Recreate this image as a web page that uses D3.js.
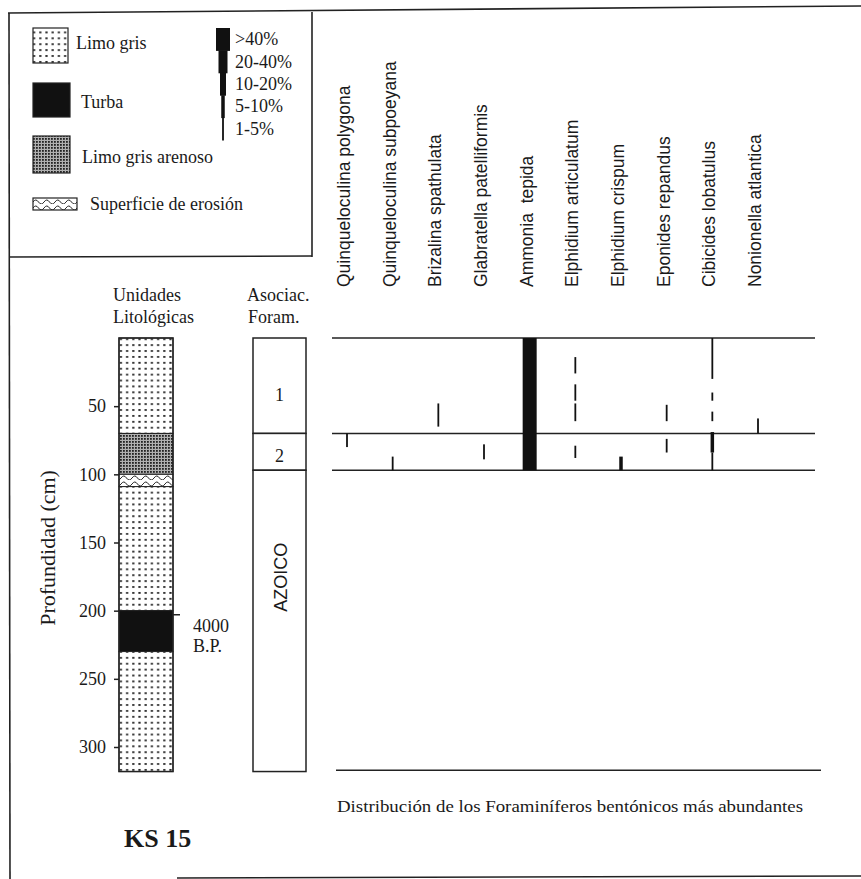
<!DOCTYPE html>
<html>
<head>
<meta charset="utf-8">
<script src="https://cdn.jsdelivr.net/npm/d3@7"></script>
<style>
  body { margin: 0; background: #fff; }
  text { font-family: "Liberation Serif", "Times New Roman", serif; fill: #1a1a1a; }
  .sans { font-family: "Liberation Sans", Arial, sans-serif; }
</style>
</head>
<body>
<svg id="svg" width="861" height="879"></svg>
<script>
// ---- datos ----
const species = [
  "Quinqueloculina polygona", "Quinqueloculina subpoeyana", "Brizalina spathulata",
  "Glabratella patelliformis", "Ammonia  tepida", "Elphidium articulatum",
  "Elphidium crispum", "Eponides repandus", "Cibicides lobatulus", "Nonionella atlantica"
];
const abundanceClasses = [">40%", "20-40%", "10-20%", "5-10%", "1-5%"];
const lithoUnits = ["Limo gris", "Turba", "Limo gris arenoso", "Superficie de erosión"];
const depthTicks = [50, 100, 150, 200, 250, 300];

// unidades litologicas (cm)
const lithoLayers = [
  { from: 0,   to: 70,  unit: "Limo gris" },
  { from: 70,  to: 100, unit: "Limo gris arenoso" },
  { from: 100, to: 109, unit: "Superficie de erosión" },
  { from: 109, to: 200, unit: "Limo gris" },
  { from: 200, to: 230, unit: "Turba" },
  { from: 230, to: 318, unit: "Limo gris" }
];

// asociaciones de foraminiferos
const associations = [
  { from: 0,  to: 70,  label: "1" },
  { from: 70, to: 97,  label: "2" },
  { from: 97, to: 318, label: "AZOICO" }
];

// datacion
const dating = { depth: 203, label: ["4000", "B.P."] };

// presencia de cada especie por tramo de profundidad
const occurrences = [
  { sp: "Quinqueloculina polygona",   from: 70, to: 80, ab: "1-5%" },
  { sp: "Quinqueloculina subpoeyana", from: 87, to: 97, ab: "1-5%" },
  { sp: "Brizalina spathulata",       from: 48, to: 65, ab: "1-5%" },
  { sp: "Glabratella patelliformis",  from: 78, to: 89, ab: "1-5%" },
  { sp: "Ammonia  tepida",            from: 0,  to: 97, ab: ">40%" },
  { sp: "Elphidium articulatum",      from: 14, to: 26, ab: "1-5%" },
  { sp: "Elphidium articulatum",      from: 34, to: 46, ab: "1-5%" },
  { sp: "Elphidium articulatum",      from: 48, to: 61, ab: "1-5%" },
  { sp: "Elphidium articulatum",      from: 79, to: 88, ab: "1-5%" },
  { sp: "Elphidium crispum",          from: 87, to: 97, ab: "5-10%" },
  { sp: "Eponides repandus",          from: 49, to: 61, ab: "1-5%" },
  { sp: "Eponides repandus",          from: 74, to: 84, ab: "1-5%" },
  { sp: "Cibicides lobatulus",        from: 0,  to: 30, ab: "1-5%" },
  { sp: "Cibicides lobatulus",        from: 40, to: 46, ab: "1-5%" },
  { sp: "Cibicides lobatulus",        from: 54, to: 61, ab: "1-5%" },
  { sp: "Cibicides lobatulus",        from: 69, to: 84, ab: "5-10%" },
  { sp: "Cibicides lobatulus",        from: 84, to: 97, ab: "1-5%" },
  { sp: "Nonionella atlantica",       from: 59, to: 70, ab: "1-5%" }
];

// ---- escalas ----
const svg = d3.select("#svg");
const y = d3.scaleLinear().domain([0, 300]).range([338, 747]);
const x = d3.scalePoint().domain(species).range([347, 758]);
const barWidth = d3.scaleOrdinal().domain(abundanceClasses).range([14, 9, 6, 3.5, 1.8]);
const unitFill = d3.scaleOrdinal().domain(lithoUnits)
  .range(["url(#limo)", "#111", "url(#arenoso)", "url(#erosion)"]);

// ---- patrones ----
const defs = svg.append("defs");
const pLimo = defs.append("pattern").attr("id", "limo")
  .attr("patternUnits", "userSpaceOnUse").attr("width", 6.2).attr("height", 5.9);
pLimo.append("rect").attr("width", 6.2).attr("height", 5.9).attr("fill", "#fff");
pLimo.append("rect").attr("x", 2).attr("y", 2).attr("width", 2.2).attr("height", 1.8).attr("fill", "#222");

const pAr = defs.append("pattern").attr("id", "arenoso")
  .attr("patternUnits", "userSpaceOnUse").attr("width", 3).attr("height", 3);
pAr.append("rect").attr("width", 3).attr("height", 3).attr("fill", "#b0b0b0");
pAr.append("rect").attr("width", 1.8).attr("height", 1.8).attr("fill", "#222");

const pEr = defs.append("pattern").attr("id", "erosion")
  .attr("patternUnits", "userSpaceOnUse").attr("width", 11).attr("height", 6);
pEr.append("rect").attr("width", 11).attr("height", 6).attr("fill", "#fff");
pEr.append("path").attr("d", "M0,4 Q2.75,0 5.5,4 T11,4")
  .attr("fill", "none").attr("stroke", "#222").attr("stroke-width", 1);

// ---- marco ----
const frame = svg.append("g").attr("stroke", "#222").attr("stroke-width", 1.6);
frame.append("line").attr("x1", 8).attr("y1", 13).attr("x2", 861).attr("y2", 6);
frame.append("line").attr("x1", 9).attr("y1", 13).attr("x2", 10).attr("y2", 879);
frame.append("line").attr("x1", 312).attr("y1", 12).attr("x2", 312).attr("y2", 257);
frame.append("line").attr("x1", 9).attr("y1", 257).attr("x2", 312).attr("y2", 256);
frame.append("line").attr("x1", 177).attr("y1", 878).attr("x2", 861).attr("y2", 876);

// ---- leyenda litologica ----
const legendItems = [
  { unit: "Limo gris",             sx: 33, sy: 28,  sw: 35, sh: 35, tx: 76, ty: 49 },
  { unit: "Turba",                 sx: 33, sy: 83,  sw: 37, sh: 34, tx: 81, ty: 108 },
  { unit: "Limo gris arenoso",     sx: 33, sy: 136, sw: 37, sh: 37, tx: 82, ty: 163 },
  { unit: "Superficie de erosión", sx: 33, sy: 198, sw: 44, sh: 12, tx: 90, ty: 210 }
];
const leg = svg.append("g");
leg.selectAll("rect.sw").data(legendItems).enter().append("rect")
  .attr("class", "sw")
  .attr("x", d => d.sx).attr("y", d => d.sy)
  .attr("width", d => d.sw).attr("height", d => d.sh)
  .attr("fill", d => unitFill(d.unit))
  .attr("stroke", "#222").attr("stroke-width", 1.2);
leg.selectAll("text.sw").data(legendItems).enter().append("text")
  .attr("class", "sw")
  .attr("x", d => d.tx).attr("y", d => d.ty)
  .attr("font-size", 18)
  .text(d => d.unit);

// ---- leyenda de abundancia ----
const legY = d3.scaleBand().domain(abundanceClasses).range([28, 140]);
leg.selectAll("rect.ab").data(abundanceClasses).enter().append("rect")
  .attr("class", "ab")
  .attr("x", d => 223 - barWidth(d) / 2)
  .attr("y", d => legY(d))
  .attr("width", d => barWidth(d))
  .attr("height", legY.bandwidth() + 0.5)
  .attr("fill", "#111");
leg.selectAll("text.ab").data(abundanceClasses).enter().append("text")
  .attr("class", "ab")
  .attr("x", 235)
  .attr("y", d => legY(d) + legY.bandwidth() / 2 + 6)
  .attr("font-size", 18)
  .text(d => d);

// ---- columna litologica ----
const colX = 119, colW = 54;
svg.append("text").attr("x", 113).attr("y", 301).attr("font-size", 18).text("Unidades");
svg.append("text").attr("x", 113).attr("y", 323).attr("font-size", 18).text("Litológicas");

svg.selectAll("rect.layer").data(lithoLayers).enter().append("rect")
  .attr("class", "layer")
  .attr("x", colX).attr("y", d => y(d.from))
  .attr("width", colW).attr("height", d => y(d.to) - y(d.from))
  .attr("fill", d => unitFill(d.unit))
  .attr("stroke", "#222").attr("stroke-width", 1);
svg.append("rect")
  .attr("x", colX).attr("y", y(0)).attr("width", colW).attr("height", y(318) - y(0))
  .attr("fill", "none").attr("stroke", "#222").attr("stroke-width", 1.5);

// eje de profundidad
const axis = svg.append("g")
  .attr("transform", `translate(${colX},0)`)
  .call(d3.axisLeft(y).tickValues(depthTicks).tickSize(5).tickPadding(8));
axis.select(".domain").remove();
axis.selectAll(".tick line").attr("stroke", "#222").attr("stroke-width", 1.5);
axis.selectAll(".tick text")
  .attr("font-family", "Liberation Serif, serif")
  .attr("font-size", 18).attr("fill", "#1a1a1a");

svg.append("text")
  .attr("transform", `translate(55,${y(154)}) rotate(-90)`)
  .attr("text-anchor", "middle")
  .attr("font-size", 22)
  .text("Profundidad (cm)");

// datacion
svg.append("line")
  .attr("x1", colX + colW).attr("x2", colX + colW + 7)
  .attr("y1", y(dating.depth)).attr("y2", y(dating.depth))
  .attr("stroke", "#222").attr("stroke-width", 1.5);
svg.selectAll("text.date").data(dating.label).enter().append("text")
  .attr("class", "date")
  .attr("x", 193)
  .attr("y", (d, i) => y(dating.depth) + 17 + i * 20)
  .attr("font-size", 18)
  .text(d => d);

// ---- asociaciones ----
const asX = 253, asW = 53;
svg.append("text").attr("x", 247).attr("y", 301).attr("font-size", 18).text("Asociac.");
svg.append("text").attr("x", 248).attr("y", 323).attr("font-size", 18).text("Foram.");

svg.selectAll("rect.assoc").data(associations).enter().append("rect")
  .attr("class", "assoc")
  .attr("x", asX).attr("y", d => y(d.from))
  .attr("width", asW).attr("height", d => y(d.to) - y(d.from))
  .attr("fill", "#fff").attr("stroke", "#222").attr("stroke-width", 1.5);

svg.selectAll("text.assoc").data(associations).enter().append("text")
  .attr("class", d => d.label.length > 2 ? "assoc sans" : "assoc")
  .attr("text-anchor", "middle")
  .attr("font-size", 18)
  .attr("transform", d => {
    const cx = asX + asW / 2;
    if (d.label.length > 2) return `translate(${cx + 7},${y(d.from) + 107}) rotate(-90)`;
    const cy = y(d.from) + (y(d.to) - y(d.from)) * 0.6 + 6;
    return `translate(${cx},${cy})`;
  })
  .text(d => d.label);

// ---- distribucion de foraminiferos ----
svg.selectAll("text.sp").data(species).enter().append("text")
  .attr("class", "sp sans")
  .attr("font-size", 17.5)
  .attr("transform", d => `translate(${x(d) + 3},287) rotate(-90)`)
  .style("white-space", "pre")
  .text(d => d);

// limites entre asociaciones
const bounds = [associations[0].from, associations[1].from, associations[1].to];
svg.selectAll("line.bound").data(bounds).enter().append("line")
  .attr("class", "bound")
  .attr("x1", 332).attr("x2", 815)
  .attr("y1", d => y(d)).attr("y2", d => y(d))
  .attr("stroke", "#222").attr("stroke-width", 1.6);

svg.selectAll("rect.occ").data(occurrences).enter().append("rect")
  .attr("class", "occ")
  .attr("x", d => x(d.sp) - barWidth(d.ab) / 2)
  .attr("y", d => y(d.from))
  .attr("width", d => barWidth(d.ab))
  .attr("height", d => y(d.to) - y(d.from))
  .attr("fill", "#111");

svg.append("line")
  .attr("x1", 336).attr("x2", 821).attr("y1", y(317)).attr("y2", y(317))
  .attr("stroke", "#222").attr("stroke-width", 1.6);

svg.append("text")
  .attr("x", 337).attr("y", 812)
  .attr("font-size", 17)
  .attr("textLength", 466).attr("lengthAdjust", "spacingAndGlyphs")
  .text("Distribución de los Foraminíferos bentónicos más abundantes");

svg.append("text")
  .attr("x", 124).attr("y", 847)
  .attr("font-size", 26).attr("font-weight", "bold")
  .text("KS 15");
</script>
</body>
</html>
